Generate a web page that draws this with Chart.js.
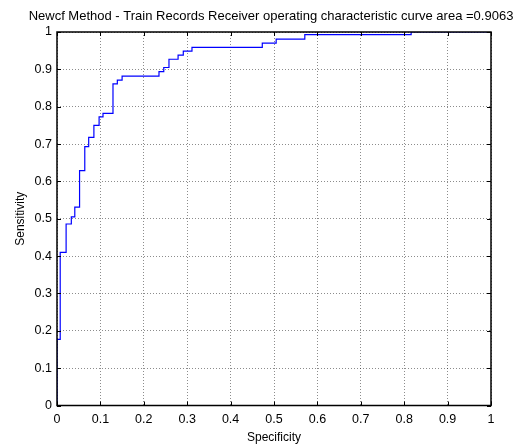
<!DOCTYPE html>
<html>
<head>
<meta charset="utf-8">
<script src="https://cdn.jsdelivr.net/npm/chart.js@4/dist/chart.umd.min.js"></script>
<style>
  html, body { margin: 0; padding: 0; background: #fff; }
  #wrap { width: 519px; height: 448px; }
</style>
</head>
<body>
<div id="wrap"><canvas id="roc"></canvas></div>
<script>
// ROC curve corners (stepped: horizontal then vertical)
const specificity = [0, 0, 0.0074, 0.021, 0.033, 0.041, 0.052, 0.064, 0.073, 0.085, 0.097,
  0.106, 0.129, 0.139, 0.150, 0.235, 0.246, 0.258, 0.279, 0.291, 0.311, 0.473, 0.505,
  0.571, 0.816, 1];
const sensitivity = [0, 0.177, 0.41, 0.486, 0.505, 0.531, 0.629, 0.693, 0.718, 0.75, 0.773,
  0.782, 0.861, 0.871, 0.882, 0.894, 0.905, 0.927, 0.938, 0.949, 0.959, 0.97, 0.981,
  0.993, 1, 1];

const xTickLabels = ['0', '0.1', '0.2', '0.3', '0.4', '0.5', '0.6', '0.7', '0.8', '0.9', '1'];
const yTickLabels = ['0', '0.1', '0.2', '0.3', '0.4', '0.5', '0.6', '0.7', '0.8', '0.9', '1'];

const chartTitle = 'Newcf Method - Train Records Receiver operating characteristic curve area =0.9063';
const FONT = 'Arial, "Liberation Sans", Helvetica, sans-serif';

// box around the axes + inward tick marks on all four sides, title above
const axesBox = {
  id: 'axesBox',
  afterDraw(chart) {
    const { ctx, chartArea: a, scales: { x, y } } = chart;
    const len = 4;
    ctx.save();
    ctx.strokeStyle = '#000';
    ctx.lineWidth = 1;
    ctx.beginPath();
    x.ticks.forEach(t => {
      const px = Math.round(x.getPixelForValue(t.value)) + 0.5;
      ctx.moveTo(px, a.bottom); ctx.lineTo(px, a.bottom - len);
      ctx.moveTo(px, a.top); ctx.lineTo(px, a.top + len);
    });
    y.ticks.forEach(t => {
      const py = Math.round(y.getPixelForValue(t.value)) + 0.5;
      ctx.moveTo(a.left, py); ctx.lineTo(a.left + len, py);
      ctx.moveTo(a.right, py); ctx.lineTo(a.right - len, py);
    });
    ctx.stroke();
    ctx.lineWidth = 1.5;
    ctx.strokeRect(a.left, a.top, a.right - a.left, a.bottom - a.top);

    // title centred over the axes (may run wider than the plot)
    ctx.fillStyle = '#000';
    ctx.font = '13px ' + FONT;
    ctx.textAlign = 'center';
    ctx.textBaseline = 'alphabetic';
    ctx.fillText(chartTitle, (a.left + a.right) / 2 - 3, 19.5);
    ctx.restore();
  }
};

const points = specificity.map((v, i) => ({ x: v, y: sensitivity[i] }));

new Chart(document.getElementById('roc'), {
  type: 'line',
  data: {
    datasets: [{
      data: points,
      borderColor: '#0000ff',
      borderWidth: 1.2,
      pointRadius: 0,
      stepped: 'before',
      fill: false
    }]
  },
  options: {
    responsive: true,
    maintainAspectRatio: false,
    animation: false,
    layout: { padding: { left: 0, right: 28, top: 32, bottom: 0 } },
    plugins: {
      legend: { display: false },
      tooltip: { enabled: false },
      title: { display: false }
    },
    scales: {
      x: {
        type: 'linear',
        min: 0, max: 1,
        afterFit: s => { s.height = 42.5; },
        ticks: {
          stepSize: 0.1,
          padding: 7,
          color: '#000',
          font: { family: FONT, size: 12.5 },
          maxRotation: 0,
          callback: (v, i) => xTickLabels[i]
        },
        grid: { color: 'rgba(0,0,0,0.45)', drawTicks: false, lineWidth: 1 },
        border: { display: false, dash: [1, 2] },
        title: {
          display: true, text: 'Specificity', color: '#000',
          font: { family: FONT, size: 12 }, padding: { top: 0, bottom: 3.5 }
        }
      },
      y: {
        type: 'linear',
        min: 0, max: 1,
        afterFit: s => { s.width = 57; },
        ticks: {
          stepSize: 0.1,
          padding: 5,
          color: '#000',
          font: { family: FONT, size: 12.5 },
          callback: (v, i) => yTickLabels[i]
        },
        grid: { color: 'rgba(0,0,0,0.45)', drawTicks: false, lineWidth: 1 },
        border: { display: false, dash: [1, 2] },
        title: {
          display: true, text: 'Sensitivity', color: '#000',
          font: { family: FONT, size: 12 }, padding: { top: 13.5, bottom: 0 }
        }
      }
    }
  },
  plugins: [axesBox]
});
</script>
</body>
</html>
